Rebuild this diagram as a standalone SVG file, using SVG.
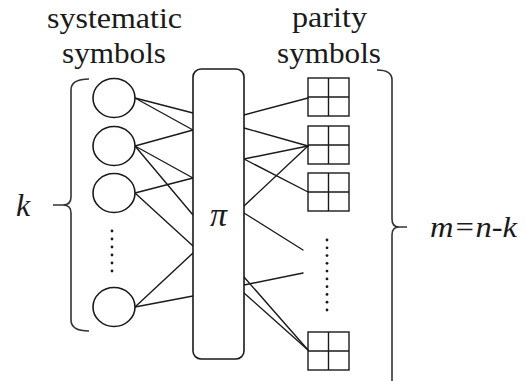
<svg xmlns="http://www.w3.org/2000/svg" width="525" height="381" viewBox="0 0 525 381">
<style>
  .lbl { font-family: 'Liberation Serif', 'Times New Roman', 'DejaVu Serif', serif; font-size: 30px; fill: #1a1a1a; }
  .it { font-style: italic; }
  .node { fill: #fff; stroke: #1a1a1a; stroke-width: 1.6; }
  .grid { fill: none; stroke: #1a1a1a; stroke-width: 1.4; }
  .edge { stroke: #1a1a1a; stroke-width: 1.4; fill: none; stroke-linecap: round; }
  .brace { stroke: #333; stroke-width: 1.6; fill: none; }
  .dot { fill: #1a1a1a; }
</style>
<rect width="525" height="381" fill="#fff"/>

<g id="labels">
  <text class="lbl" x="47" y="28" textLength="135" lengthAdjust="spacingAndGlyphs">systematic</text>
  <text class="lbl" x="62" y="63" textLength="104" lengthAdjust="spacingAndGlyphs">symbols</text>
  <text class="lbl" x="292" y="27" textLength="75" lengthAdjust="spacingAndGlyphs">parity</text>
  <text class="lbl" x="277" y="63" textLength="104" lengthAdjust="spacingAndGlyphs">symbols</text>
  <text class="lbl it" x="16" y="216" style="font-size:32px">k</text>
  <text class="lbl it" x="430" y="237" textLength="87" lengthAdjust="spacingAndGlyphs">m=n-k</text>
</g>

<g id="connectors">
  <line class="edge" x1="135" y1="98" x2="193" y2="113"/>
  <line class="edge" x1="135" y1="98" x2="193" y2="130"/>
  <line class="edge" x1="135" y1="146" x2="193" y2="130"/>
  <line class="edge" x1="135" y1="146" x2="193" y2="178"/>
  <line class="edge" x1="135" y1="146" x2="193" y2="215"/>
  <line class="edge" x1="135" y1="193" x2="193" y2="178"/>
  <line class="edge" x1="135" y1="193" x2="193" y2="246"/>
  <line class="edge" x1="135" y1="307" x2="193" y2="253"/>
  <line class="edge" x1="135" y1="307" x2="193" y2="296"/>

  <line class="edge" x1="244" y1="115" x2="308" y2="98"/>
  <line class="edge" x1="244" y1="128" x2="308" y2="146"/>
  <line class="edge" x1="244" y1="159" x2="308" y2="146"/>
  <line class="edge" x1="244" y1="159" x2="308" y2="192"/>
  <line class="edge" x1="244" y1="206" x2="308" y2="146"/>
  <line class="edge" x1="244" y1="213" x2="303" y2="250"/>
  <line class="edge" x1="244" y1="285" x2="303" y2="273"/>
  <line class="edge" x1="244" y1="277" x2="308" y2="350"/>
  <line class="edge" x1="244" y1="293" x2="308" y2="350"/>
</g>

<g id="bracket-k">
  <path class="brace" d="M89,79 Q71,79 71,90 V197 Q71,205 63,205 H53 M63,205 Q71,205 71,213 V320 Q71,331 89,331"/>
</g>
<g id="bracket-m">
  <path class="brace" d="M377,70 Q392,70 392,80 V219 Q392,227 399,227 H407 M399,227 Q392,227 392,235 V381"/>
</g>

<g id="sys1"><ellipse class="node" cx="114" cy="98" rx="21" ry="19.5"/></g>
<g id="sys2"><ellipse class="node" cx="114" cy="146" rx="21" ry="19.5"/></g>
<g id="sys3"><ellipse class="node" cx="114" cy="193" rx="21" ry="19.5"/></g>
<g id="sys-dots">
  <circle class="dot" cx="112" cy="231" r="1.4"/>
  <circle class="dot" cx="112" cy="239" r="1.4"/>
  <circle class="dot" cx="112" cy="247" r="1.4"/>
  <circle class="dot" cx="112" cy="255" r="1.4"/>
  <circle class="dot" cx="112" cy="263" r="1.4"/>
  <circle class="dot" cx="112" cy="271" r="1.4"/>
</g>
<g id="sys4"><ellipse class="node" cx="114" cy="307" rx="21" ry="19.5"/></g>

<g id="interleaver">
  <rect class="node" x="193" y="69" width="51" height="290" rx="8" ry="8"/>
  <text class="lbl it" x="218.5" y="226" text-anchor="middle" style="font-size:34px">π</text>
</g>

<g id="par1">
  <rect class="grid" x="308" y="78" width="41" height="38"/>
  <path class="grid" d="M328.5,78 V116 M308,97 H349"/>
</g>
<g id="par2">
  <rect class="grid" x="308" y="126" width="41" height="38"/>
  <path class="grid" d="M328.5,126 V164 M308,145 H349"/>
</g>
<g id="par3">
  <rect class="grid" x="308" y="173" width="41" height="38"/>
  <path class="grid" d="M328.5,173 V211 M308,192 H349"/>
</g>
<g id="par-dots">
  <circle class="dot" cx="327" cy="240" r="1.4"/>
  <circle class="dot" cx="327" cy="247.8" r="1.4"/>
  <circle class="dot" cx="327" cy="255.6" r="1.4"/>
  <circle class="dot" cx="327" cy="263.3" r="1.4"/>
  <circle class="dot" cx="327" cy="271.1" r="1.4"/>
  <circle class="dot" cx="327" cy="278.9" r="1.4"/>
  <circle class="dot" cx="327" cy="286.7" r="1.4"/>
  <circle class="dot" cx="327" cy="294.4" r="1.4"/>
  <circle class="dot" cx="327" cy="302.2" r="1.4"/>
  <circle class="dot" cx="327" cy="310" r="1.4"/>
</g>
<g id="par4">
  <rect class="grid" x="308" y="332" width="41" height="38"/>
  <path class="grid" d="M328.5,332 V370 M308,351 H349"/>
</g>
</svg>
